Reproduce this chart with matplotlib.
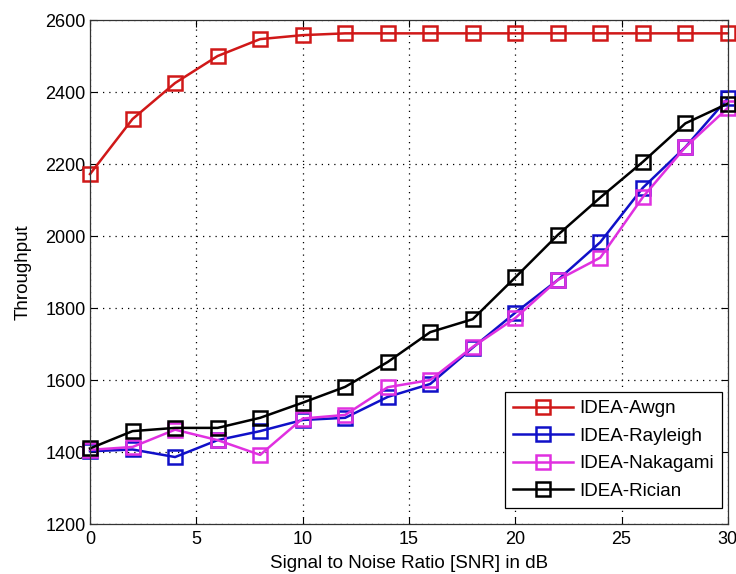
import matplotlib
matplotlib.use("Agg")
import matplotlib.pyplot as plt

plt.rcParams['font.family'] = ['Liberation Sans', 'DejaVu Sans']

snr = [0, 2, 4, 6, 8, 10, 12, 14, 16, 18, 20, 22, 24, 26, 28, 30]
awgn = [2172, 2325, 2425, 2500, 2547, 2558, 2563, 2563, 2563, 2563, 2563, 2563, 2563, 2563, 2563, 2563]
rayleigh = [1402, 1407, 1386, 1433, 1458, 1489, 1495, 1553, 1589, 1690, 1787, 1878, 1983, 2134, 2247, 2383]
nakagami = [1406, 1414, 1462, 1433, 1392, 1493, 1503, 1580, 1600, 1692, 1772, 1878, 1940, 2108, 2247, 2356]
rician = [1410, 1458, 1467, 1467, 1495, 1537, 1581, 1650, 1733, 1769, 1885, 2003, 2107, 2206, 2313, 2368]

labels = ['IDEA-Awgn', 'IDEA-Rayleigh', 'IDEA-Nakagami', 'IDEA-Rician']
colors = ['#d01818', '#1010c8', '#e030e0', '#000000']
xticks = [0, 5, 10, 15, 20, 25, 30]
yticks = [1200, 1400, 1600, 1800, 2000, 2200, 2400, 2600]

fig = plt.figure(figsize=(7.36, 5.74), dpi=100)
ax = fig.add_axes([0.1223, 0.0871, 0.8667, 0.878])

for ys, lab, c in zip([awgn, rayleigh, nakagami, rician], labels, colors):
    ax.plot(snr, ys, color=c, lw=1.8, marker='s', ms=9.5, mfc='none', mec=c, mew=1.8, label=lab, clip_on=False)

ax.set_xlim(0, 30)
ax.set_ylim(1200, 2600)
ax.set_xticks(xticks)
ax.set_yticks(yticks)
ax.tick_params(direction='in', length=5, labelsize=13, top=True, right=True)
ax.tick_params(axis='x', pad=5)
ax.tick_params(axis='y', pad=3)
ax.grid(True, color='black', linestyle=(0, (1, 4)), linewidth=0.9)
for s in ax.spines.values():
    s.set_linewidth(0.9)
    s.set_color('#333333')

ax.set_xlabel('Signal to Noise Ratio [SNR] in dB', fontsize=13.5, labelpad=5)
ax.set_ylabel('Throughput', fontsize=13.5, labelpad=10)

leg = ax.legend(loc='lower right', bbox_to_anchor=(0.9906, 0.0317), borderaxespad=0,
                fontsize=13.5, fancybox=False, framealpha=1, edgecolor='black',
                handlelength=3.2, labelspacing=0.55, handletextpad=0.3, borderpad=0.45)
leg.get_frame().set_linewidth(0.9)

fig.savefig('out.png', dpi=100)
